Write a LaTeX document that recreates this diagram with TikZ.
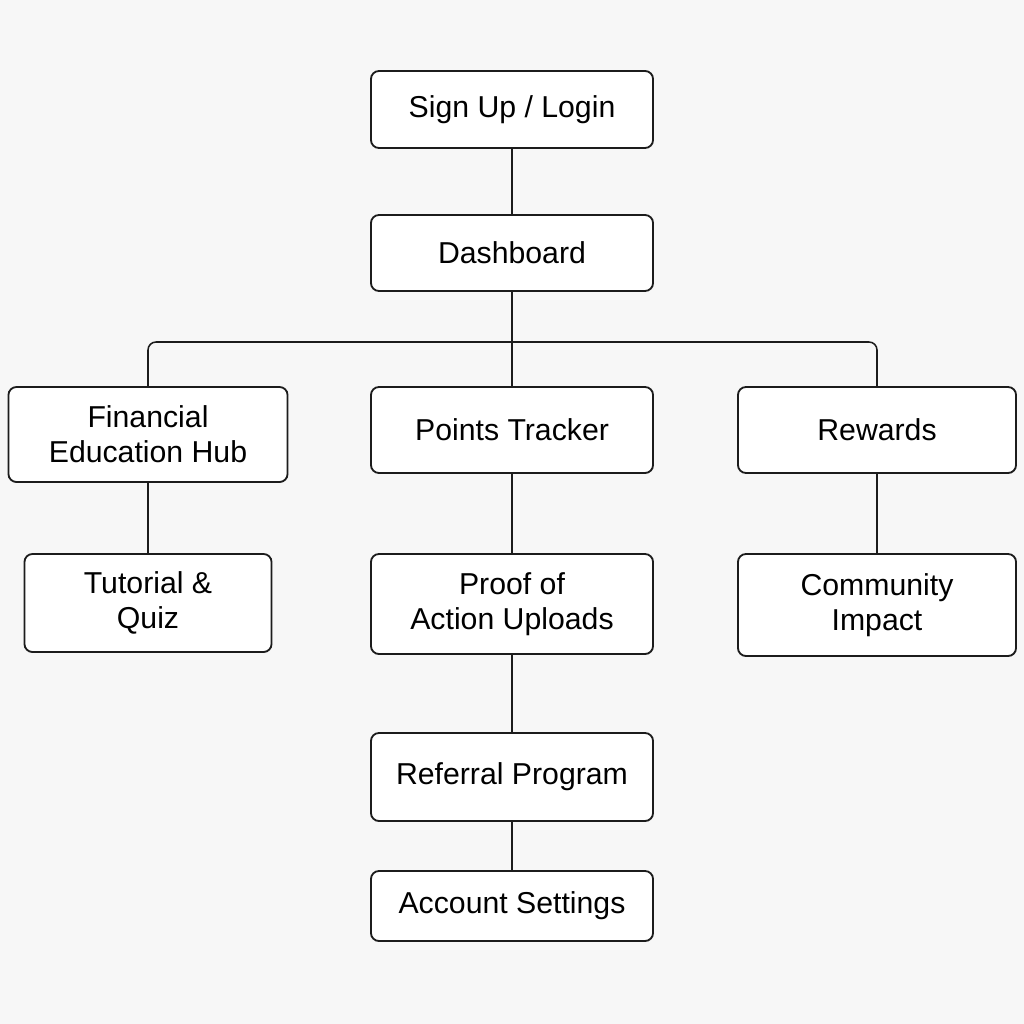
\documentclass[tikz,border=0pt]{standalone}
\usepackage{fontspec}
\setmainfont{Liberation Sans}
\usetikzlibrary{positioning}
\definecolor{bggray}{RGB}{247,247,247}
\definecolor{linegray}{RGB}{28,28,28}

\begin{document}
\begin{tikzpicture}[x=0.025cm, y=-0.025cm,
                    box/.style={draw=linegray, fill=white, rounded corners=0.2cm,
                                line width=1.3pt, minimum width=7.05cm, inner sep=0pt,
                                align=center, font=\fontsize{21.5}{25}\selectfont},
                    link/.style={draw=linegray, line width=1.1pt}]
                    \fill[bggray] (0,0) rectangle (1024,1024);
                    % top of the tree
                    \node (Login) [box, minimum height=1.925cm] at (512,109.5) {Sign Up / Login};
                    \node (Dashboard) [box, minimum height=1.9cm] at (512,253) {Dashboard};
                    % second row
                    \node (FinHub) [box, minimum width=6.975cm, minimum height=2.375cm] at (148,434.5) {Financial\\Education Hub};
                    \node (Points) [box, minimum height=2.15cm] at (512,430) {Points Tracker};
                    \node (Rewards) [box, minimum width=6.95cm, minimum height=2.15cm] at (877,430) {Rewards};
                    % third row
                    \node (Tutorial) [box, minimum width=6.175cm, minimum height=2.45cm] at (148,603) {Tutorial \&\\Quiz};
                    \node (Proof) [box, minimum height=2.5cm] at (512,604) {Proof of\\Action Uploads};
                    \node (Community) [box, minimum width=6.95cm, minimum height=2.55cm] at (877,605) {Community\\Impact};
                    % bottom chain
                    \node (Referral) [box, minimum height=2.2cm] at (512,777) {Referral Program};
                    \node (Account) [box, minimum height=1.75cm] at (512,906) {Account Settings};
                    \coordinate (Bar) at (512,342);
                    \draw[link] (Login) -- (Dashboard);
                    \draw[link] (Dashboard) -- (Points);
                    \draw[link, rounded corners=0.2cm] (FinHub.north) |- (Bar) -| (Rewards.north);
                    \draw[link] (FinHub) -- (Tutorial);
                    \draw[link] (Points) -- (Proof);
                    \draw[link] (Rewards) -- (Community);
                    \draw[link] (Proof) -- (Referral);
                    \draw[link] (Referral) -- (Account);
                \end{tikzpicture}
\end{document}
